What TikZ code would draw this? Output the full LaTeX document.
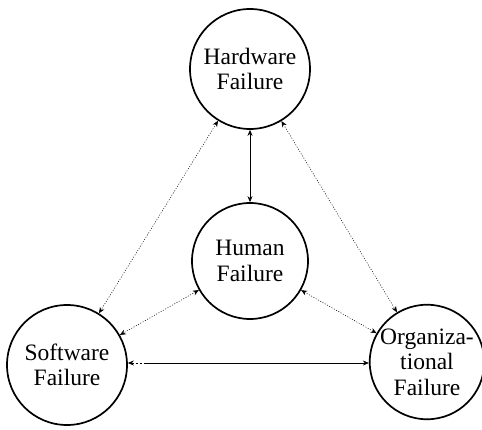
\documentclass[tikz,border=0pt]{standalone}
\usepackage{fontspec}
\setmainfont{Liberation Serif}
\usetikzlibrary{arrows.meta}

\begin{document}
\begin{tikzpicture}[x=1pt,y=1pt,
        failure/.style={draw,circle,line width=1.7pt,inner sep=0pt,align=center,
          font=\fontsize{23.5}{25.5}\selectfont},
        link/.style={{Stealth[length=6pt,width=5pt]}-{Stealth[length=6pt,width=5pt]},line width=0.7pt},
        weak/.style={link,line width=0.5pt,dash pattern=on 1pt off 1.6pt}]
        \useasboundingbox (0,0) rectangle (482,429);
        \node[failure,minimum size=120pt] (hw) at (250,360) {Hardware\\Failure};
        \node[failure,minimum size=116pt] (hu) at (250,168) {Human\\Failure};
        \node[failure,minimum size=120pt] (sw) at (67,64) {Software\\Failure};
        \node[failure,minimum size=112pt] (org) at (427,67) {Organiza-\\tional\\Failure};
        \draw[link] (hw) -- (hu);
        \draw[weak] (hw) -- (sw);
        \draw[weak] (hw) -- (org);
        \draw[weak] (hu) -- (sw);
        \draw[weak] (hu) -- (org);
        \draw[link,dash pattern=on 2pt off 2pt on 2pt off 2pt on 2pt off 2pt on 400pt] (sw.east |- 0,66) -- (org.west |- 0,66);
    \end{tikzpicture}
\end{document}
